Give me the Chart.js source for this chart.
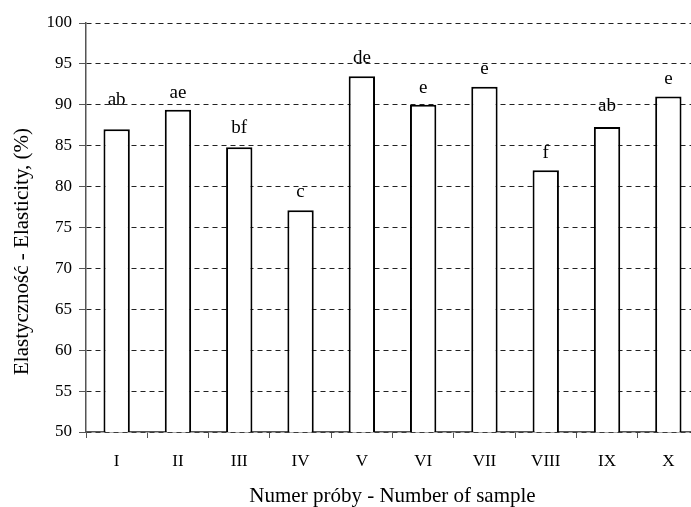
<!DOCTYPE html>
<html>
<head>
<meta charset="utf-8">
<script src="https://cdn.jsdelivr.net/npm/chart.js@4.4.1/dist/chart.umd.min.js"></script>
<style>
  html, body { margin: 0; padding: 0; background: #fff; overflow: hidden; }
  #wrap { width: 691px; height: 507px; overflow: hidden; }
  canvas { display: block; }
</style>
</head>
<body>
<div id="wrap"><canvas id="c" width="700" height="507"></canvas></div>
<script>
const categories = ['I', 'II', 'III', 'IV', 'V', 'VI', 'VII', 'VIII', 'IX', 'X'];
const elasticity = [87.0, 89.4, 84.8, 77.1, 93.5, 90.0, 92.2, 82.0, 87.3, 91.0];
const groupLetters = ['ab', 'ae', 'bf', 'c', 'de', 'e', 'e', 'f', 'ab', 'e'];
const yTicks = [50, 55, 60, 65, 70, 75, 80, 85, 90, 95, 100];
const xTitle = 'Numer próby - Number of sample';
const yTitle = 'Elastyczność - Elasticity, (%)';

const FONT = "'Liberation Serif', 'Times New Roman', serif";
const AXIS = '#555555';

const letterPlugin = {
  id: 'letters',
  afterDatasetsDraw(chart, args, opts) {
    const ctx = chart.ctx;
    const meta = chart.getDatasetMeta(0);
    ctx.save();
    ctx.font = '19px ' + FONT;
    ctx.fillStyle = '#000';
    ctx.textAlign = 'center';
    ctx.textBaseline = 'alphabetic';
    meta.data.forEach((bar, i) => {
      const lift = (opts.lift && opts.lift[i] != null) ? opts.lift[i] : 13;
      ctx.fillText(groupLetters[i], bar.x, bar.y - lift);
    });
    ctx.restore();
  }
};

const yTitlePlugin = {
  id: 'yTitleText',
  afterDraw(chart, args, opts) {
    const ctx = chart.ctx;
    const area = chart.chartArea;
    ctx.save();
    ctx.font = '21px ' + FONT;
    ctx.fillStyle = '#000';
    ctx.textAlign = 'center';
    ctx.textBaseline = 'middle';
    ctx.translate(opts.x, (area.top + area.bottom) / 2 + opts.shift);
    ctx.rotate(-Math.PI / 2);
    ctx.fillText(yTitle, 0, 0);
    ctx.restore();
  }
};

new Chart(document.getElementById('c'), {
  type: 'bar',
  data: {
    labels: categories,
    datasets: [{
      data: elasticity,
      backgroundColor: '#ffffff',
      borderColor: '#000000',
      borderWidth: 2,
      barPercentage: 0.43,
      categoryPercentage: 1.0
    }]
  },
  options: {
    responsive: false,
    devicePixelRatio: 1,
    animation: false,
    layout: { padding: { top: 23, right: 1, bottom: 0, left: 0 } },
    plugins: {
      legend: { display: false },
      tooltip: { enabled: false },
      letters: { lift: [24, 12, 14, 13, 13, 12, 13, 12, 16, 13] },
      yTitleText: { x: 22, shift: 24 }
    },
    scales: {
      x: {
        grid: {
          display: true,
          drawOnChartArea: false,
          drawTicks: true,
          tickLength: 6,
          tickColor: AXIS,
          offset: true
        },
        border: { display: true, color: AXIS, width: 1.5 },
        ticks: {
          color: '#000',
          font: { family: FONT, size: 17 },
          padding: 13,
          maxRotation: 0,
          autoSkip: false
        },
        title: {
          display: true,
          text: xTitle,
          color: '#000',
          font: { family: FONT, size: 21, lineHeight: 1 },
          padding: { top: 0, bottom: 0 }
        },
        afterFit(scale) { scale.height = 75; }
      },
      y: {
        min: 50,
        max: 100,
        afterBuildTicks(scale) { scale.ticks = yTicks.map(v => ({ value: v })); },
        grid: {
          color: '#222222',
          lineWidth: 1,
          tickBorderDash: [],
          tickLength: 7,
          tickColor: AXIS,
          drawTicks: true
        },
        border: { display: true, color: AXIS, width: 1.5, dash: [5, 4] },
        ticks: {
          color: '#000',
          font: { family: FONT, size: 17 },
          padding: 7
        },
        title: { display: false },
        afterFit(scale) { scale.width = 86; }
      }
    }
  },
  plugins: [letterPlugin, yTitlePlugin]
});
</script>
</body>
</html>
